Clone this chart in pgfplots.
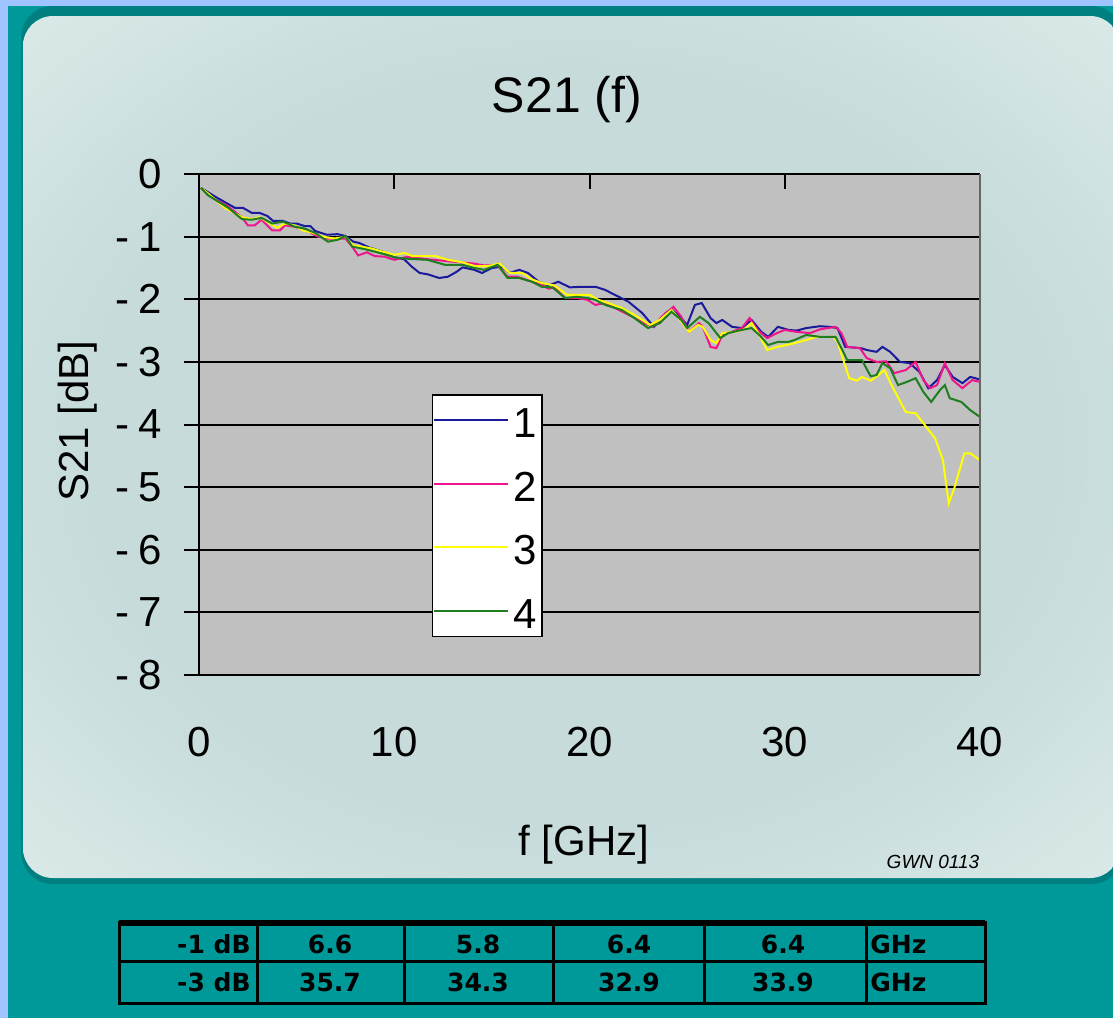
\documentclass[border=0pt]{standalone}
\usepackage{fontspec}
\setmainfont{Liberation Sans}
\newfontfamily\tabfont{DejaVu Sans}
\usepackage{pgfplots}
\pgfplotsset{compat=1.18}

\definecolor{lblue}{HTML}{A0C4FF}
\definecolor{tealbg}{HTML}{009999}
\definecolor{tealdk}{HTML}{007F80}
\definecolor{haloC}{HTML}{C6DBDA}
\definecolor{edgeC}{HTML}{E6F2F1}
\definecolor{plotgray}{HTML}{C0C0C0}
\definecolor{sA}{HTML}{1A1A9A}
\definecolor{sB}{HTML}{F0148C}
\definecolor{sC}{HTML}{FFFF00}
\definecolor{sD}{HTML}{1E7D1E}
\pgfdeclareradialshading{halo}{\pgfpoint{0bp}{0bp}}{color(0bp)=(haloC); color(22bp)=(haloC); color(44bp)=(edgeC); color(50bp)=(edgeC)}

\begin{document}
\begin{tikzpicture}
\begin{scope}[x=0.5pt,y=-0.5pt]
\useasboundingbox (0,0) rectangle (1113,1018);
\begin{scope}
\clip (0,0) rectangle (1113,1018);
\fill[tealbg] (0,0) rectangle (1113,1018);
\fill[lblue] (0,0) rectangle (8,1018);
\fill[lblue] (0,0) rectangle (1113,6);
\fill[tealdk, rounded corners=16pt] (21,6) rectangle (1123,884);
\shade[shading=halo, rounded corners=15pt] (23,16) rectangle (1120,878);
\end{scope}
% titles and labels
\node[anchor=base, font=\fontsize{25}{25}\selectfont] at (567,112) {S21 (f)};
\node[anchor=base, rotate=90, font=\fontsize{21}{21}\selectfont] at (88,421) {S21 [dB]};
\node[anchor=base, font=\fontsize{21}{21}\selectfont] at (584,855) {f [GHz]};
\node[anchor=base, font=\fontsize{9.5}{9.5}\selectfont\itshape] at (933,868) {GWN 0113};
% table
\draw[black, line width=1.5pt] (119,922) rectangle (985,1003);
\draw[black, line width=3pt] (119,923) -- (985,923);
\draw[black, line width=1.5pt] (119,961) -- (985,961);
\foreach \xx in {257,404,553,704,866} {\draw[black, line width=1.5pt] (\xx,922) -- (\xx,1003);}
\begin{scope}[every node/.style={font=\tabfont\bfseries\fontsize{12.5}{12.5}\selectfont, text=black, inner sep=0pt}]
\node[anchor=base east] at (251,953) {-1 dB};
\node[anchor=base east] at (251,991) {-3 dB};
\node[anchor=base] at (330,953) {6.6};
\node[anchor=base] at (478,953) {5.8};
\node[anchor=base] at (629,953) {6.4};
\node[anchor=base] at (783,953) {6.4};
\node[anchor=base] at (330,991) {35.7};
\node[anchor=base] at (478,991) {34.3};
\node[anchor=base] at (629,991) {32.9};
\node[anchor=base] at (783,991) {33.9};
\node[anchor=base west] at (870,953) {GHz};
\node[anchor=base west] at (870,991) {GHz};
\end{scope}
\end{scope}

\begin{axis}[
  at={(99.5pt,-337.5pt)}, anchor=south west,
  scale only axis, width=390.5pt, height=250.5pt,
  xmin=0, xmax=40, ymin=-8, ymax=0,
  clip=false,
  axis background/.style={fill=plotgray},
  axis line style={draw=none},
  xtick={0,10,20,30,40}, xticklabels={0,10,20,30,40},
  ytick={-8,-7,-6,-5,-4,-3,-2,-1,0},
  yticklabels={-\kern4.5pt 8,-\kern4.5pt 7,-\kern4.5pt 6,-\kern4.5pt 5,-\kern4.5pt 4,-\kern4.5pt 3,-\kern4.5pt 2,-\kern4.5pt 1,0},
  xtick pos=upper, xticklabel pos=lower, xtick align=inside,
  ytick pos=left, ytick align=outside,
  major tick length=7.5pt,
  tick style={black, line width=1pt},
  ymajorgrids, grid style={black, line width=1pt},
  x tick label style={font=\fontsize{21}{21}\selectfont, anchor=center, yshift=-33.5pt},
  y tick label style={font=\fontsize{21}{21}\selectfont, anchor=east, inner sep=0pt, xshift=-11pt},
  legend style={at={(0.2983,0.5609)}, anchor=north west, draw=black, line width=0.75pt, fill=white,
    inner xsep=0pt, inner ysep=4pt, row sep=14.3pt,
    nodes={inner xsep=2.5pt, inner ysep=0pt, text height=17.5pt, text depth=0pt},
    font=\fontsize{21}{21}\selectfont},
  legend image code/.code={\draw[#1] (4pt,0pt) -- (34pt,0pt); \path (0pt,0pt) -- (37pt,0pt);},
]
\addplot[sA, line width=1pt] coordinates {(0.1,-0.22)(0.82,-0.36)(1.84,-0.54)(2.25,-0.54)(2.7,-0.62)(3.1,-0.62)(3.5,-0.67)(3.8,-0.75)(4.3,-0.75)(4.66,-0.79)(5.0,-0.79)(5.4,-0.83)(5.7,-0.83)(5.95,-0.91)(6.55,-0.97)(7.1,-0.96)(7.5,-0.99)(7.9,-1.08)(8.2,-1.1)(8.7,-1.17)(9.1,-1.21)(9.4,-1.24)(10.0,-1.33)(10.5,-1.36)(10.9,-1.48)(11.3,-1.58)(11.7,-1.6)(12.3,-1.66)(12.75,-1.64)(13.2,-1.56)(13.5,-1.49)(14.1,-1.53)(14.5,-1.58)(15.0,-1.5)(15.5,-1.48)(15.9,-1.58)(16.4,-1.53)(16.85,-1.58)(17.4,-1.72)(17.9,-1.78)(18.4,-1.72)(19.0,-1.81)(19.6,-1.8)(20.3,-1.8)(20.8,-1.85)(21.3,-1.93)(22.0,-2.04)(22.7,-2.22)(23.3,-2.44)(23.9,-2.22)(24.2,-2.16)(24.7,-2.3)(25.0,-2.41)(25.4,-2.09)(25.75,-2.06)(26.2,-2.3)(26.5,-2.38)(26.8,-2.33)(27.3,-2.44)(27.8,-2.46)(28.3,-2.33)(28.8,-2.52)(29.15,-2.6)(29.65,-2.44)(30.2,-2.49)(30.6,-2.5)(31.1,-2.46)(31.8,-2.43)(32.3,-2.44)(32.7,-2.46)(33.1,-2.76)(33.9,-2.78)(34.2,-2.81)(34.7,-2.84)(35.0,-2.76)(35.4,-2.84)(35.9,-3.0)(36.4,-3.02)(36.9,-3.16)(37.35,-3.42)(37.8,-3.29)(38.2,-3.05)(38.6,-3.24)(39.1,-3.34)(39.5,-3.24)(40.0,-3.28)};
\addplot[sB, line width=1pt] coordinates {(0.1,-0.22)(0.47,-0.34)(1.5,-0.52)(2.2,-0.69)(2.5,-0.82)(2.85,-0.82)(3.2,-0.73)(3.75,-0.9)(4.15,-0.9)(4.4,-0.82)(4.9,-0.84)(5.6,-0.92)(6.1,-1.0)(6.55,-1.03)(7.5,-1.03)(7.85,-1.16)(8.15,-1.3)(8.6,-1.25)(9.0,-1.31)(9.5,-1.32)(10.0,-1.37)(10.7,-1.32)(11.7,-1.36)(13.0,-1.4)(14.1,-1.43)(14.6,-1.46)(15.3,-1.46)(15.8,-1.64)(16.3,-1.64)(16.85,-1.7)(17.4,-1.75)(17.9,-1.83)(18.2,-1.81)(18.75,-1.98)(19.35,-1.98)(19.9,-2.01)(20.3,-2.09)(20.8,-2.06)(21.5,-2.17)(22.2,-2.28)(22.8,-2.38)(23.25,-2.44)(23.7,-2.28)(24.3,-2.12)(24.7,-2.28)(25.1,-2.52)(25.6,-2.38)(25.8,-2.44)(26.2,-2.76)(26.5,-2.78)(26.8,-2.57)(27.3,-2.52)(27.8,-2.46)(28.2,-2.3)(28.6,-2.49)(29.1,-2.62)(29.6,-2.54)(30.0,-2.49)(30.6,-2.52)(31.3,-2.54)(31.8,-2.48)(32.6,-2.44)(32.9,-2.54)(33.2,-2.76)(33.85,-2.78)(34.2,-2.94)(34.7,-3.0)(35.2,-2.99)(35.6,-3.18)(36.2,-3.13)(36.7,-3.0)(37.1,-3.29)(37.45,-3.42)(37.8,-3.37)(38.2,-3.02)(38.6,-3.29)(39.1,-3.42)(39.6,-3.29)(40.0,-3.32)};
\addplot[sC, line width=1pt] coordinates {(0.1,-0.22)(0.46,-0.31)(1.33,-0.54)(2.2,-0.69)(2.7,-0.72)(3.1,-0.69)(3.65,-0.79)(4.0,-0.86)(4.4,-0.79)(4.9,-0.82)(5.3,-0.9)(5.85,-0.94)(6.35,-1.0)(6.95,-1.03)(7.5,-1.0)(7.9,-1.14)(8.35,-1.16)(8.85,-1.19)(9.4,-1.24)(10.0,-1.29)(10.55,-1.26)(10.9,-1.31)(12.1,-1.31)(12.75,-1.37)(13.5,-1.41)(14.1,-1.47)(14.8,-1.47)(15.4,-1.43)(15.9,-1.58)(16.55,-1.58)(17.05,-1.68)(17.55,-1.74)(18.2,-1.78)(18.85,-1.93)(19.4,-1.93)(20.0,-1.93)(20.45,-2.01)(20.95,-2.06)(21.65,-2.14)(22.3,-2.25)(23.1,-2.41)(23.6,-2.33)(24.2,-2.17)(24.65,-2.33)(25.1,-2.52)(25.55,-2.41)(25.8,-2.44)(26.2,-2.65)(26.5,-2.7)(26.8,-2.54)(27.45,-2.52)(27.95,-2.48)(28.3,-2.38)(28.6,-2.52)(29.1,-2.81)(29.6,-2.76)(30.1,-2.73)(30.5,-2.7)(31.1,-2.65)(31.6,-2.6)(32.5,-2.6)(32.7,-2.68)(33.0,-2.97)(33.3,-3.26)(33.7,-3.3)(33.95,-3.24)(34.4,-3.3)(34.8,-3.21)(35.1,-3.13)(35.55,-3.42)(36.2,-3.8)(36.7,-3.82)(37.1,-3.98)(37.7,-4.22)(38.1,-4.57)(38.4,-5.26)(38.7,-5.0)(39.2,-4.46)(39.5,-4.46)(40.0,-4.57)};
\addplot[sD, line width=1pt] coordinates {(0.1,-0.22)(0.47,-0.34)(1.5,-0.54)(2.2,-0.72)(2.7,-0.73)(3.2,-0.7)(3.75,-0.79)(4.3,-0.76)(4.9,-0.84)(5.4,-0.87)(5.95,-0.94)(6.6,-1.08)(7.1,-1.05)(7.5,-0.99)(7.85,-1.16)(8.5,-1.2)(9.0,-1.24)(9.6,-1.29)(10.0,-1.33)(10.5,-1.35)(11.7,-1.37)(12.6,-1.45)(13.5,-1.45)(14.1,-1.5)(14.6,-1.53)(15.3,-1.45)(15.8,-1.66)(16.4,-1.66)(17.05,-1.72)(17.55,-1.8)(18.1,-1.81)(18.75,-1.98)(19.35,-1.96)(19.9,-1.98)(20.3,-2.01)(20.8,-2.09)(21.65,-2.17)(22.3,-2.3)(23.0,-2.46)(23.6,-2.38)(24.2,-2.2)(24.7,-2.33)(25.0,-2.46)(25.65,-2.28)(26.1,-2.38)(26.7,-2.62)(27.1,-2.54)(27.8,-2.49)(28.3,-2.46)(28.7,-2.57)(29.15,-2.73)(29.65,-2.68)(30.2,-2.68)(30.5,-2.65)(31.1,-2.57)(31.8,-2.6)(32.6,-2.6)(32.9,-2.78)(33.2,-2.97)(33.95,-2.97)(34.4,-3.23)(34.7,-3.21)(35.0,-3.02)(35.4,-3.1)(35.8,-3.37)(36.25,-3.32)(36.7,-3.26)(37.1,-3.48)(37.5,-3.64)(37.95,-3.45)(38.2,-3.37)(38.45,-3.58)(39.05,-3.64)(39.5,-3.77)(40.0,-3.88)};
\legend{1,2,3,4}
\draw[black, line width=1pt] (axis cs:0,-8) -- (axis cs:0,0);
\draw[gray!80!black, line width=0.6pt] (axis cs:40,-8) -- (axis cs:40,0);
\end{axis}
\end{tikzpicture}
\end{document}
